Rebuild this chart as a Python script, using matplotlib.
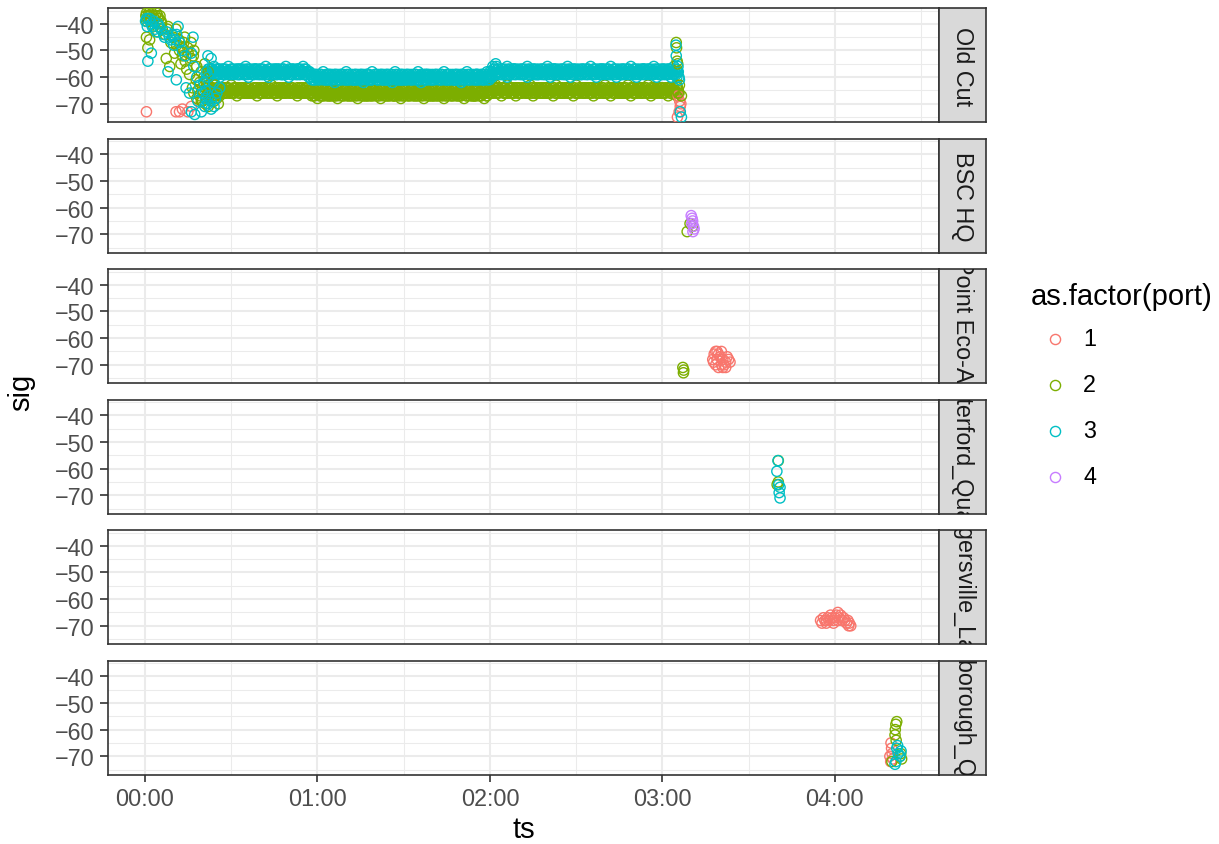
import matplotlib
matplotlib.use("Agg")
import matplotlib.pyplot as plt
from matplotlib.lines import Line2D

W, H = 1219, 845

plt.rcParams["font.family"] = ["Liberation Sans", "DejaVu Sans"]

SITES = ["Old Cut", "BSC HQ", "Point Eco-Ad", "Waterford_Quarry",
         "Hagersville_Lake", "Peterborough_Quarry"]
PORTS = [1, 2, 3, 4]
PORT_COLORS = ["#F8766D", "#7CAE00", "#00BFC4", "#C77CFF"]

# ts in minutes after 00:00, sig in dBm
X_TICKS = [0, 60, 120, 180, 240]
X_LABELS = ["00:00", "01:00", "02:00", "03:00", "04:00"]
Y_TICKS = [-70, -60, -50, -40]

# --- Old Cut: steady antenna bands (readings every quarter minute)
BAND_MIN = list(range(22, 186))
BAND_MIN_Q1 = [m + 0.25 for m in BAND_MIN]
BAND_MIN_HALF = [m + 0.5 for m in BAND_MIN]
BAND_MIN_Q3 = [m + 0.75 for m in BAND_MIN]
CYAN_HI = [-57, -57, -56, -57, -57, -57, -57, -56, -57, -57, -57, -57,
           -57, -56, -57, -57, -57, -57, -57, -57, -56, -57, -57, -57,
           -57, -57, -57, -56, -57, -57, -57, -57, -57, -56, -57, -58] + \
          [-59, -59, -59, -59, -58, -59, -59, -59, -59, -59, -59, -59,
           -58, -59, -59, -59, -59, -59, -59, -59, -59, -58, -59, -59,
           -59, -59, -59, -59, -59, -58, -59, -59, -59, -59, -59, -59,
           -59, -58, -59, -59, -59, -59, -59, -59, -59, -59, -58, -59,
           -59, -59, -59, -59, -59, -59, -58, -59, -59, -59, -59, -59,
           -59, -58, -58] + \
          [-56, -55, -57, -57, -57, -56, -57, -57, -57, -57, -57, -57,
           -56, -57, -57, -57, -57, -57, -57, -56, -57, -57, -57, -57,
           -57, -57, -56, -57, -57, -57, -57, -57, -57, -57, -56, -57,
           -57, -57, -57, -57, -57, -56, -57, -57, -57, -57, -57, -57,
           -56, -57, -57, -57, -57, -57, -57, -57, -56, -57, -57, -57,
           -57, -57, -57, -56, -57]
CYAN_Q1 = [-57, -58, -58, -57, -58, -57, -58, -58, -57, -58, -57, -57,
           -58, -57, -58, -58, -57, -58, -57, -58, -58, -57, -58, -57,
           -57, -58, -57, -58, -58, -57, -58, -57, -58, -57, -58, -58] + \
          [-60, -59, -60, -59, -60, -60, -59, -60, -59, -60, -59, -60,
           -59, -60, -60, -59, -60, -59, -60, -59, -60, -60, -59, -60,
           -59, -60, -59, -60, -60, -59, -60, -59, -60, -59, -60, -60,
           -59, -60, -59, -60, -59, -60, -60, -59, -60, -59, -60, -59,
           -60, -60, -59, -60, -59, -60, -59, -60, -60, -59, -60, -59,
           -60, -59, -59] + \
          [-57, -56, -58, -57, -58, -57, -58, -57, -58, -58, -57, -58,
           -57, -58, -57, -58, -58, -57, -58, -57, -58, -57, -58, -58,
           -57, -58, -57, -58, -57, -58, -58, -57, -58, -57, -58, -57,
           -58, -58, -57, -58, -57, -58, -57, -58, -58, -57, -58, -57,
           -58, -57, -58, -58, -57, -58, -57, -58, -57, -58, -58, -57,
           -58, -57, -58, -57, -58]
CYAN_MID = [-58, -58, -58, -57, -58, -58, -58, -58, -58, -58, -59, -58,
            -58, -58, -58, -58, -57, -58, -58, -58, -58, -58, -58, -58,
            -58, -59, -58, -58, -58, -58, -58, -57, -58, -58, -58, -59] + \
           [-60, -60, -60, -60, -60, -59, -60, -60, -60, -60, -60, -60,
            -60, -60, -61, -60, -60, -60, -60, -59, -60, -60, -60, -60,
            -60, -60, -60, -60, -60, -60, -60, -61, -60, -60, -60, -60,
            -60, -60, -60, -59, -60, -60, -60, -60, -60, -60, -60, -60,
            -60, -61, -60, -60, -60, -60, -60, -60, -60, -59, -60, -60,
            -60, -60, -59] + \
           [-57, -57, -58, -58, -58, -58, -58, -57, -58, -58, -58, -58,
            -58, -58, -58, -59, -58, -58, -58, -58, -58, -57, -58, -58,
            -58, -58, -58, -58, -58, -58, -59, -58, -58, -58, -58, -58,
            -58, -57, -58, -58, -58, -58, -58, -58, -59, -58, -58, -58,
            -58, -58, -58, -58, -57, -58, -58, -58, -58, -58, -59, -58,
            -58, -58, -58, -58, -58]
CYAN_Q3 = [-59, -58, -59, -59, -58, -59, -58, -59, -59, -58, -59, -58,
           -59, -59, -58, -59, -58, -59, -59, -58, -59, -58, -59, -59,
           -58, -59, -59, -58, -59, -58, -59, -59, -58, -59, -58, -59] + \
          [-61, -60, -61, -60, -61, -61, -60, -61, -60, -61, -60, -61,
           -61, -60, -61, -61, -60, -61, -60, -61, -61, -60, -61, -60,
           -61, -61, -60, -61, -60, -61, -61, -60, -61, -60, -61, -60,
           -61, -61, -60, -61, -60, -61, -61, -60, -61, -60, -61, -61,
           -60, -61, -60, -61, -61, -60, -61, -60, -61, -61, -60, -61,
           -60, -61, -60] + \
          [-59, -58, -59, -58, -59, -59, -58, -59, -58, -59, -59, -58,
           -59, -58, -59, -59, -58, -59, -58, -59, -59, -58, -59, -58,
           -59, -59, -58, -59, -58, -59, -59, -58, -59, -58, -59, -59,
           -58, -59, -58, -59, -59, -58, -59, -58, -59, -59, -58, -59,
           -58, -59, -59, -58, -59, -58, -59, -59, -58, -59, -58, -59,
           -59, -58, -59, -59, -60]
CYAN_LO = [-59, -59, -59, -59, -60, -59, -59, -59, -58, -59, -59, -59,
           -59, -59, -60, -59, -59, -59, -59, -59, -59, -60, -59, -59,
           -59, -59, -59, -59, -60, -59, -59, -59, -59, -59, -59, -60] + \
          [-61, -61, -61, -60, -61, -61, -61, -61, -62, -61, -61, -61,
           -61, -61, -61, -61, -61, -61, -62, -61, -61, -61, -60, -61,
           -61, -61, -61, -61, -62, -61, -61, -61, -61, -61, -61, -61,
           -61, -61, -62, -61, -61, -61, -61, -60, -61, -61, -61, -61,
           -61, -61, -61, -61, -62, -61, -61, -61, -61, -61, -61, -61,
           -61, -61, -60] + \
          [-58, -59, -59, -59, -59, -60, -59, -59, -59, -59, -59, -59,
           -60, -59, -59, -59, -59, -59, -59, -59, -60, -59, -59, -59,
           -59, -59, -59, -60, -59, -59, -59, -59, -59, -59, -59, -59,
           -60, -59, -59, -59, -59, -59, -59, -60, -59, -59, -59, -59,
           -59, -59, -60, -59, -59, -59, -59, -59, -59, -60, -59, -59,
           -59, -59, -60, -59, -60]
GREEN_HI = [-64, -64, -65, -64, -64, -64, -64, -64, -63, -64, -64, -64,
            -64, -64, -64, -65, -64, -64, -64, -64, -64, -64, -63, -64,
            -64, -64, -64, -64, -64, -64, -65, -64, -64, -64, -64, -65] + \
           [-65, -65, -65, -65, -66, -65, -65, -65, -65, -65, -65, -64,
            -65, -65, -65, -65, -65, -66, -65, -65, -65, -65, -65, -65,
            -65, -65, -64, -65, -65, -65, -65, -65, -65, -65, -66, -65,
            -65, -65, -65, -65, -65, -65, -65, -65, -64, -65, -65, -65,
            -65, -65, -65, -66, -65, -65, -65, -65, -65, -65, -65, -65,
            -65, -64, -64] + \
           [-63, -63, -64, -64, -64, -63, -64, -64, -64, -64, -64, -64,
            -64, -63, -64, -64, -64, -64, -64, -64, -64, -64, -63, -64,
            -64, -64, -64, -64, -64, -63, -64, -64, -64, -64, -64, -64,
            -64, -64, -64, -63, -64, -64, -64, -64, -64, -64, -64, -63,
            -64, -64, -64, -64, -64, -64, -63, -64, -64, -64, -64, -64,
            -64, -64, -64, -64, -63]
GREEN_Q1 = [-65, -64, -65, -65, -64, -65, -64, -65, -65, -64, -65, -64,
            -65, -65, -64, -65, -64, -65, -65, -64, -65, -64, -65, -65,
            -64, -65, -65, -64, -65, -64, -65, -65, -64, -65, -64, -65] + \
           [-66, -65, -66, -66, -65, -66, -65, -66, -66, -65, -66, -65,
            -66, -66, -65, -66, -65, -66, -66, -65, -66, -65, -66, -66,
            -65, -66, -66, -65, -66, -65, -66, -66, -65, -66, -65, -66,
            -66, -65, -66, -65, -66, -66, -65, -66, -65, -66, -66, -65,
            -66, -65, -66, -66, -65, -66, -65, -66, -66, -65, -66, -65,
            -66, -65, -65] + \
           [-64, -64, -65, -64, -65, -65, -64, -65, -64, -65, -65, -64,
            -65, -64, -65, -65, -64, -65, -64, -65, -65, -64, -65, -64,
            -65, -65, -64, -65, -64, -65, -65, -64, -65, -64, -65, -65,
            -64, -65, -64, -65, -65, -64, -65, -64, -65, -65, -64, -65,
            -64, -65, -65, -64, -65, -64, -65, -65, -64, -65, -64, -65,
            -65, -64, -65, -65, -64]
GREEN_MID = [-65, -65, -65, -65, -65, -66, -65, -65, -65, -65, -65, -65,
             -65, -65, -66, -65, -65, -65, -65, -65, -65, -65, -65, -66,
             -65, -65, -65, -65, -65, -65, -65, -65, -66, -65, -65, -65] + \
            [-66, -66, -66, -66, -66, -66, -67, -66, -66, -66, -66, -66,
             -66, -66, -66, -66, -66, -66, -66, -67, -66, -66, -66, -66,
             -66, -66, -66, -66, -67, -66, -66, -66, -66, -66, -66, -66,
             -66, -66, -66, -66, -66, -66, -67, -66, -66, -66, -66, -66,
             -66, -66, -66, -66, -66, -66, -66, -66, -67, -66, -66, -66,
             -66, -66, -65] + \
            [-64, -65, -65, -65, -65, -65, -65, -66, -65, -65, -65, -65,
             -65, -65, -65, -65, -65, -66, -65, -65, -65, -65, -65, -65,
             -65, -65, -66, -65, -65, -65, -65, -65, -65, -65, -65, -65,
             -66, -65, -65, -65, -65, -65, -65, -65, -65, -66, -65, -65,
             -65, -65, -65, -65, -65, -65, -65, -66, -65, -65, -65, -65,
             -65, -65, -65, -66, -65]
GREEN_Q3 = [-66, -65, -66, -66, -65, -66, -65, -66, -66, -65, -66, -65,
            -66, -66, -65, -66, -65, -66, -66, -65, -66, -65, -66, -66,
            -65, -66, -66, -65, -66, -65, -66, -66, -65, -66, -65, -66] + \
           [-67, -66, -67, -67, -66, -67, -66, -67, -67, -66, -67, -66,
            -67, -67, -66, -67, -66, -67, -67, -66, -67, -66, -67, -67,
            -66, -67, -67, -66, -67, -66, -67, -67, -66, -67, -66, -67,
            -67, -66, -67, -66, -67, -67, -66, -67, -66, -67, -67, -66,
            -67, -66, -67, -67, -66, -67, -66, -67, -67, -66, -67, -66,
            -67, -66, -66] + \
           [-65, -66, -65, -66, -66, -65, -66, -65, -66, -66, -65, -66,
            -65, -66, -66, -65, -66, -65, -66, -66, -65, -66, -65, -66,
            -66, -65, -66, -65, -66, -66, -65, -66, -65, -66, -66, -65,
            -66, -65, -66, -66, -65, -66, -65, -66, -66, -65, -66, -65,
            -66, -66, -65, -66, -65, -66, -66, -65, -66, -65, -66, -66,
            -65, -66, -65, -66, -66]
GREEN_LO = [-66, -66, -66, -67, -66, -66, -66, -66, -66, -66, -67, -66,
            -66, -66, -66, -66, -66, -67, -66, -66, -66, -66, -66, -66,
            -67, -66, -66, -66, -66, -66, -66, -67, -66, -66, -66, -66] + \
           [-67, -67, -68, -67, -67, -67, -67, -67, -67, -68, -67, -67,
            -67, -67, -67, -67, -68, -67, -67, -67, -67, -67, -67, -67,
            -68, -67, -67, -67, -67, -67, -67, -68, -67, -67, -67, -67,
            -67, -67, -67, -68, -67, -67, -67, -67, -67, -67, -68, -67,
            -67, -67, -67, -67, -67, -68, -67, -67, -67, -67, -67, -67,
            -68, -67, -66] + \
           [-66, -66, -66, -67, -66, -66, -66, -66, -67, -66, -66, -66,
            -66, -66, -67, -66, -66, -66, -66, -66, -66, -67, -66, -66,
            -66, -66, -66, -66, -67, -66, -66, -66, -66, -66, -66, -67,
            -66, -66, -66, -66, -66, -67, -66, -66, -66, -66, -66, -66,
            -67, -66, -66, -66, -66, -66, -66, -67, -66, -66, -66, -66,
            -66, -67, -66, -66, -67]

# --- Old Cut: scattered detections
OC_P1_TS = [0.5, 10.8, 12.0, 14.9, 16.1, 13.0, 185.5, 186.0, 186.2, 185.8, 185.2, 186.4]
OC_P1_SIG = [-73, -73, -73, -73, -71, -72, -67, -69, -71, -73, -75, -70]
OC_P2_TS = [0.3, 0.5, 0.8, 1.0, 1.3, 1.6, 2.0, 2.4, 2.8, 3.2, 3.6, 4.0, 4.4, 4.8, 5.2,
            5.6, 1.8, 0.6, 0.5, 1.6, 1.0, 8.0, 10.8, 7.4, 8.6, 10.3, 13.8, 14.9, 16.1,
            15.5, 17.8, 20.8, 21.9, 18.4, 19.6, 6.0, 7.0, 9.0, 11.0, 12.0, 13.0, 14.0,
            16.0, 17.0, 18.0, 19.0, 16.5, 17.0, 18.0, 19.0, 20.0, 21.0, 22.0, 23.0,
            24.0, 20.0, 22.0, 25.0, 21.0, 22.0, 23.0, 24.0, 25.0, 23.5, 21.5, 20.5,
            19.5, 24.5, 26.0, 25.5, 3.0, 4.5, 5.8, 7.8, 9.8, 11.8, 12.8, 13.5, 15.0,
            16.8, 14.5, 12.5,
            184.8, 184.9, 185.1, 185.3, 185.9, 186.6, 185.5]
OC_P2_SIG = [-37, -36, -38, -37, -36, -37, -38, -36, -37, -38, -37, -36, -37, -38, -37,
             -39, -39, -39, -45, -46, -49, -41, -42, -53, -56, -51, -45, -49, -53,
             -59, -61, -55, -58, -65, -69, -42, -44, -47, -48, -50, -52, -54,
             -47, -50, -56, -62, -64, -66, -68, -67, -65, -64, -66, -68,
             -67, -69, -63, -65, -70, -71, -66, -69, -68, -64, -62, -60,
             -58, -63, -67, -70, -41, -43, -40, -42, -45, -46, -49, -47, -51,
             -52, -57, -55,
             -47, -49, -54, -55, -63, -67, -66]
OC_P3_TS = [2.2, 4.0, 1.0, 2.2, 6.8, 11.5, 16.7, 8.0, 10.9, 14.3, 16.1, 21.9, 23.0,
            17.3, 20.8, 18.4, 19.6, 16.1, 15.5, 1.5, 3.0, 4.5, 0.8, 5.5, 6.5, 9.0,
            10.0, 12.0, 13.0, 14.0, 17.0, 18.0, 19.0, 20.0, 21.0, 22.0, 23.0, 24.0,
            22.0, 21.0, 22.0, 23.0, 24.0, 25.0, 26.0, 24.5, 20.5, 21.5, 23.5,
            0.2, 0.6, 2.5, 3.5, 5.0, 7.5, 8.5, 9.5, 10.5, 11.0,
            184.7, 184.8, 185.4, 185.9, 186.6, 186.2]
OC_P3_SIG = [-40, -43, -54, -51, -45, -41, -45, -58, -61, -64, -51, -52, -53,
             -74, -71, -69, -73, -73, -66, -38, -39, -40, -41, -42, -44, -46,
             -48, -47, -50, -52, -56, -60, -63, -66, -68, -70, -72, -62,
             -60, -65, -67, -69, -71, -66, -64, -68, -62, -58, -57,
             -39, -38, -41, -42, -41, -43, -45, -44, -46, -44,
             -48, -52, -56, -61, -75, -73]

# --- other receivers
BSC_P2_TS = [188.6, 189.6, 190.5]
BSC_P2_SIG = [-69, -66, -67]
BSC_P4_TS = [190.0, 190.3, 190.5, 190.2, 190.8, 191.0, 190.6]
BSC_P4_SIG = [-63, -64, -65, -66, -67, -68, -69]

PE_P1_TS = [197.5, 198.0, 198.5, 199.0, 199.5, 200.0, 200.5, 201.0, 201.5, 202.0,
            202.5, 203.0, 203.5, 198.5, 199.5, 200.5, 201.0, 197.8, 199.0, 202.0]
PE_P1_SIG = [-68, -66, -65, -65, -66, -67, -65, -68, -70, -69,
             -67, -68, -69, -70, -71, -70, -71, -69, -68, -71]
PE_P2_TS = [187.1, 187.4, 187.3]
PE_P2_SIG = [-71, -72, -73]

WQ_P2_TS = [220.3, 219.9, 220.3]
WQ_P2_SIG = [-57, -66, -65]
WQ_P3_TS = [220.2, 219.8, 220.9, 220.4, 220.6, 220.9]
WQ_P3_SIG = [-57, -61, -67, -66, -69, -71]

HL_P1_TS = [235.0, 235.5, 236.0, 236.5, 237.0, 237.5, 238.0, 238.5, 239.0, 239.5,
            240.0, 240.5, 241.0, 241.5, 242.0, 242.5, 243.0, 243.5, 244.0, 244.5,
            245.0, 245.5, 244.8, 237.0, 239.5, 241.0]
HL_P1_SIG = [-68, -69, -67, -68, -69, -67, -68, -66, -67, -68,
             -67, -66, -65, -67, -66, -68, -67, -68, -69, -68,
             -69, -70, -70, -68, -69, -68]

PQ_P1_TS = [259.7, 259.1, 259.5, 259.9, 260.2, 259.4]
PQ_P1_SIG = [-67, -70, -65, -69, -71, -72]
PQ_P2_TS = [261.5, 261.2, 261.0, 260.9, 261.3, 262.6, 263.2, 259.8, 262.9]
PQ_P2_SIG = [-57, -58, -60, -62, -64, -70, -71, -72, -69]
PQ_P3_TS = [261.5, 261.8, 260.9, 262.7, 263.0, 261.2, 262.0]
PQ_P3_SIG = [-67, -66, -73, -70, -68, -72, -69]

SITE_POINTS = [
    [(2, BAND_MIN, GREEN_HI), (2, BAND_MIN_Q1, GREEN_Q1), (2, BAND_MIN_HALF, GREEN_MID),
     (2, BAND_MIN_Q3, GREEN_Q3), (2, BAND_MIN, GREEN_LO),
     (3, BAND_MIN, CYAN_HI), (3, BAND_MIN_Q1, CYAN_Q1), (3, BAND_MIN_HALF, CYAN_MID),
     (3, BAND_MIN_Q3, CYAN_Q3), (3, BAND_MIN, CYAN_LO),
     (1, OC_P1_TS, OC_P1_SIG), (2, OC_P2_TS, OC_P2_SIG), (3, OC_P3_TS, OC_P3_SIG)],
    [(2, BSC_P2_TS, BSC_P2_SIG), (4, BSC_P4_TS, BSC_P4_SIG)],
    [(1, PE_P1_TS, PE_P1_SIG), (2, PE_P2_TS, PE_P2_SIG)],
    [(2, WQ_P2_TS, WQ_P2_SIG), (3, WQ_P3_TS, WQ_P3_SIG)],
    [(1, HL_P1_TS, HL_P1_SIG)],
    [(1, PQ_P1_TS, PQ_P1_SIG), (2, PQ_P2_TS, PQ_P2_SIG), (3, PQ_P3_TS, PQ_P3_SIG)],
]

GRID = "#EBEBEB"
DARK = "#333333"
POINT_SIZE = 54
POINT_LW = 1.0


def px_rect(x0, y0, x1, y1):
    return [x0 / W, 1 - y1 / H, (x1 - x0) / W, (y1 - y0) / H]


fig = plt.figure(figsize=(W / 100, H / 100), dpi=100)

PANEL_L, PANEL_R, STRIP_R = 108, 939, 986
for i, site in enumerate(SITES):
    top = 9 + 130.5 * i
    bot = top + 114.3
    ax = fig.add_axes(px_rect(PANEL_L, top, PANEL_R, bot))
    for port, ts, sig in SITE_POINTS[i]:
        ax.scatter(ts, sig, s=POINT_SIZE, facecolors="none",
                   edgecolors=PORT_COLORS[port - 1], linewidths=POINT_LW, zorder=3)
    ax.set_xlim(-12.87, 276.2)
    ax.set_ylim(-76.95, -34.05)
    ax.set_xticks(X_TICKS)
    ax.set_xticks([30, 90, 150, 210, 270], minor=True)
    ax.set_yticks(Y_TICKS)
    ax.set_yticks([-75, -65, -55, -45, -35], minor=True)
    ax.set_yticklabels([f"\u2212{abs(v)}" for v in Y_TICKS])
    ax.grid(which="major", color=GRID, lw=1.5)
    ax.grid(which="minor", color=GRID, lw=0.75)
    ax.set_axisbelow(True)
    for sp in ax.spines.values():
        sp.set_color(DARK)
        sp.set_linewidth(1.2)
    ax.tick_params(which="minor", length=0)
    ax.tick_params(which="major", color=DARK, width=1.2, length=5.8, pad=3.6,
                   labelsize=16.8, labelcolor="#4D4D4D")
    if i == len(SITES) - 1:
        ax.set_xticklabels(X_LABELS)
        ax.tick_params(axis="x", length=5.0, pad=4.0)
    else:
        ax.tick_params(axis="x", bottom=False, labelbottom=False)

    # facet strip; long names are clipped to the strip like in the original
    sax = fig.add_axes(px_rect(PANEL_R, top, STRIP_R, bot))
    sax.set_facecolor("#D9D9D9")
    sax.set_xticks([])
    sax.set_yticks([])
    for sp in sax.spines.values():
        sp.set_color(DARK)
        sp.set_linewidth(1.2)
    sax.text(0.5, 0.5, site, rotation=-90, ha="center", va="center",
             fontsize=16.8, color="#1A1A1A", transform=sax.transAxes,
             clip_on=True, rotation_mode="anchor")

fig.text(21 / W, 1 - 392 / H, "sig", rotation=90, ha="center", va="center",
         fontsize=21)
fig.text(523.5 / W, 1 - 830 / H, "ts", ha="center", va="center", fontsize=21)

# legend
fig.text(1031 / W, 1 - 297 / H, "as.factor(port)", ha="left", va="center",
         fontsize=21)
for k, port in enumerate(PORTS):
    yk = 1 - (340 + 46 * k) / H
    fig.add_artist(Line2D([1055 / W], [yk], transform=fig.transFigure,
                          marker="o", ms=7.3, mfc="none", mew=POINT_LW,
                          mec=PORT_COLORS[k], ls="none"))
    fig.text(1083 / W, yk, str(port), ha="left", va="center", fontsize=16.8)

fig.savefig("out.png", dpi=100)
